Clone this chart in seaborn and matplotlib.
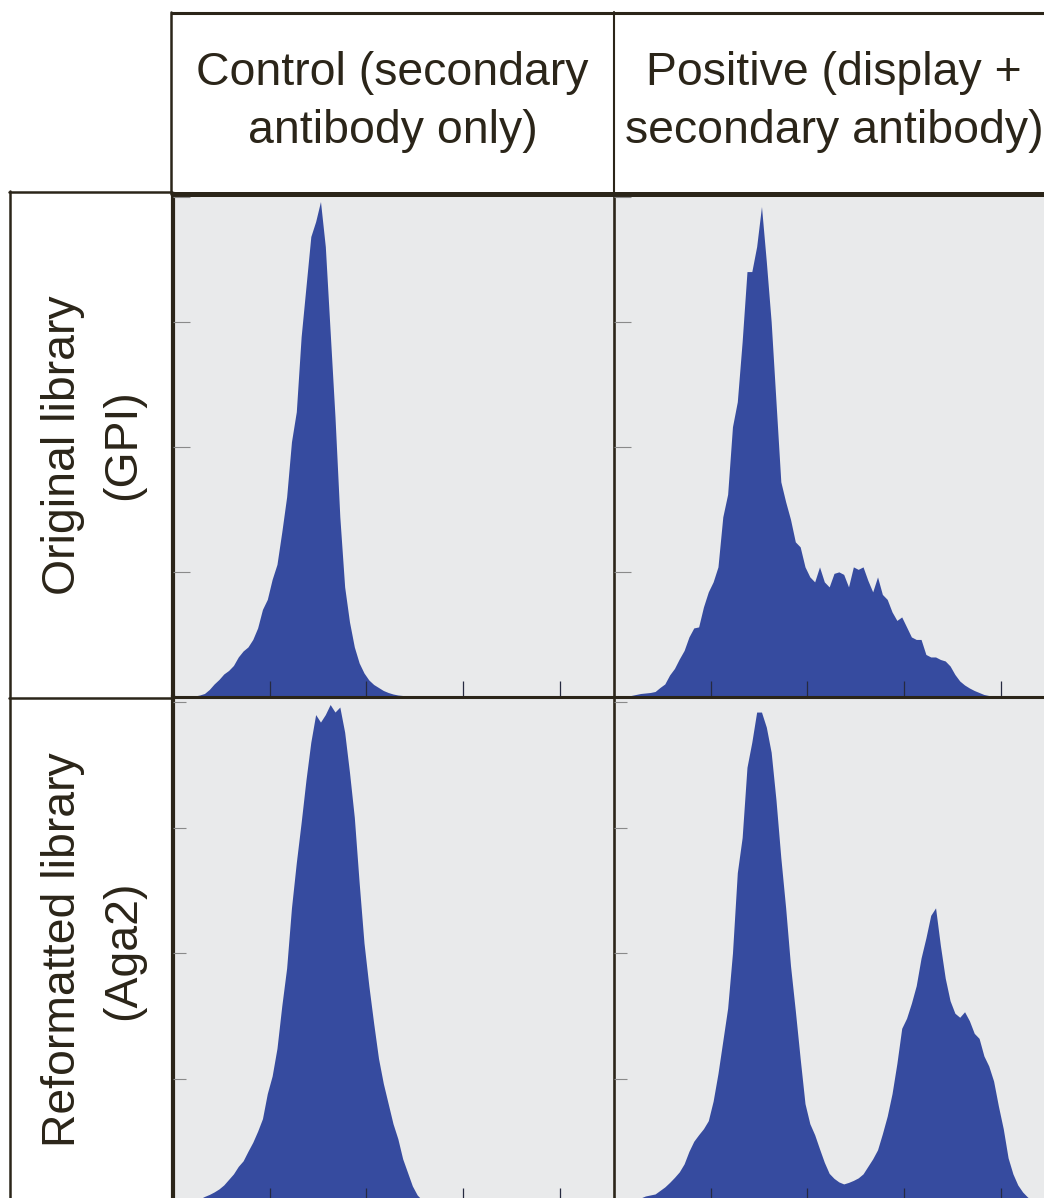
import matplotlib
matplotlib.use('Agg')
import matplotlib.pyplot as plt
import seaborn as sns
import pandas as pd
import numpy as np

# Fluorescence histograms, x in decades (log10 channel), y in % of max
bin_width = 0.05
x_max = 4.6
bin_centers = np.round(np.arange(bin_width / 2, x_max, bin_width), 3)

control_gpi = [
    0, 0, 0, 0.1, 0.2, 0.4, 0.7, 1.5, 2.6, 3.5,
    4.6, 5.3, 6.3, 8.0, 9.2, 10.0, 11.5, 13.8, 17.5, 19.5,
    23.5, 26.5, 33, 40, 51, 57, 72, 82, 92, 95,
    99, 90, 73, 56, 36, 22, 15, 10, 6.8, 4.8,
    3.4, 2.5, 1.9, 1.3, 0.9, 0.6, 0.4, 0.3, 0.2, 0.2,
    0.1, 0.2, 0.1, 0.1, 0.1, 0, 0.1, 0, 0, 0,
    0, 0, 0, 0, 0, 0, 0, 0, 0, 0,
    0, 0, 0, 0, 0, 0, 0, 0, 0, 0,
    0, 0, 0, 0, 0, 0, 0, 0, 0, 0,
    0, 0,
]
positive_gpi = [
    0, 0, 0.1, 0.3, 0.5, 0.7, 0.8, 0.9, 1.1, 1.9,
    2.6, 4.4, 5.7, 7.6, 9.3, 12, 13.8, 14, 18, 21,
    23, 26, 36, 40.5, 54, 59, 71, 85, 85, 90,
    98, 87, 75, 59, 43, 39, 35.5, 31, 30, 26,
    24, 23, 26, 23, 22, 24.7, 25, 24.5, 22, 26,
    25.5, 26, 23.3, 21, 24, 20.5, 19.5, 17, 15.3, 16,
    14, 12, 11.5, 11.5, 8.5, 8, 8, 7.5, 7.2, 6.2,
    4.5, 3.2, 2.4, 1.8, 1.3, 0.9, 0.5, 0.3, 0.1, 0,
    0, 0, 0, 0, 0, 0, 0, 0, 0, 0,
    0, 0,
]
control_aga2 = [
    0, 0, 0.1, 0.3, 0.6, 1.0, 1.5, 1.9, 2.4, 3.0,
    3.8, 4.9, 6.0, 7.5, 8.6, 10.5, 12.3, 14.5, 17, 22,
    25.5, 31, 39.5, 47, 59, 68, 76, 84.5, 92, 97.5,
    96, 97.5, 99.5, 98, 99, 94, 86, 77, 64, 52,
    43.5, 36, 29, 24, 20, 16, 13, 9, 6.3, 3.6,
    1.8, 0.8, 0.4, 0.2, 0, 0, 0, 0, 0, 0,
    0, 0, 0, 0, 0, 0, 0, 0, 0, 0,
    0, 0, 0, 0, 0, 0, 0, 0, 0, 0,
    0, 0, 0, 0, 0, 0, 0, 0, 0, 0,
    0, 0,
]
positive_aga2 = [
    0, 0, 0.1, 0.3, 0.7, 1.2, 1.6, 1.8, 2.0, 2.7,
    3.4, 4.3, 5.3, 6.4, 8, 10.5, 12.5, 13.8, 15, 16.6,
    20.5, 26, 32.5, 39, 50, 66, 73, 87, 92, 98,
    98, 95, 90, 80.5, 69, 59, 47.5, 38.5, 29, 20,
    16, 13.8, 11, 8.3, 6.1, 5.1, 4.4, 4.0, 4.3, 4.7,
    5.2, 6, 7.5, 9, 10.8, 14, 17.5, 22, 28, 35,
    37, 40, 43.5, 49, 53, 57.5, 59, 51.5, 45, 40.5,
    38, 37.2, 38.3, 36.5, 34, 33, 29.5, 27.5, 24.5, 19.5,
    15, 9.2, 6, 3.8, 2.4, 1.4, 0.7, 0.3, 0.1, 0,
    0, 0,
]

col_titles = [['Control (secondary', 'antibody only)'],
              ['Positive (display +', 'secondary antibody)']]
row_titles = [['Original library', '(GPI)'],
              ['Reformatted library', '(Aga2)']]
panels = [[control_gpi, positive_gpi], [control_aga2, positive_aga2]]
x_ticks = [1, 2, 3, 4]
y_ticks = [25, 50, 75, 100]

W, H = 1044, 1198
BLUE = '#364b9f'
GREY_BG = '#e9eaeb'
INK = '#2b2519'

sns.set_theme(style='white')
plt.rcParams['font.family'] = ['Liberation Sans', 'DejaVu Sans']

fig = plt.figure(figsize=(W / 100, H / 100), dpi=100)
fig.patch.set_facecolor('white')


def px_rect(x0, y0, x1, y1):
    """pixel box (top-left origin) -> figure fraction rect"""
    return [x0 / W, 1 - y1 / H, (x1 - x0) / W, (y1 - y0) / H]


col_x = [(173, 614), (614, 1055)]
row_y = [(194, 697), (697, 1204)]

for r in range(2):
    for c in range(2):
        x0, x1 = col_x[c]
        y0, y1 = row_y[r]
        ax = fig.add_axes(px_rect(x0, y0, x1, y1))
        ax.set_facecolor(GREY_BG)
        df = pd.DataFrame({'channel': bin_centers, 'pct': panels[r][c]})
        sns.histplot(data=df, x='channel', weights='pct',
                     binwidth=bin_width, binrange=(0, x_max),
                     element='poly', fill=True, color=BLUE, alpha=1,
                     linewidth=0, legend=False, ax=ax)
        ax.set_axisbelow(False)  # tick marks sit on top of the fill
        ax.set_xlim(0, 4.56)
        ax.set_ylim(0, 100.5 if r == 0 else 101)
        ax.set_xlabel('')
        ax.set_ylabel('')
        ax.set_xticks(x_ticks)
        ax.set_yticks(y_ticks)
        ax.set_xticklabels([])
        ax.set_yticklabels([])
        ax.tick_params(axis='x', direction='in', length=11.5, width=0.9,
                       color='#262a40', bottom=True)
        ax.tick_params(axis='y', direction='in', length=12 if r == 0 else 9,
                       width=0.8, color='#8a8a8a', left=True)
        for s in ax.spines.values():
            s.set_color(INK)
            s.set_visible(False)
        ax.spines['left'].set_visible(True)
        ax.spines['left'].set_linewidth(3.0 if c == 0 else 1.9)
        ax.spines['top'].set_visible(True)
        ax.spines['top'].set_linewidth(3.6 if r == 0 else 2.2)

# header and row label boxes, drawn on top in pixel coordinates
frame = fig.add_axes([0, 0, 1, 1], zorder=10)
frame.set_xlim(0, W)
frame.set_ylim(H, 0)
frame.axis('off')
frame.patch.set_alpha(0)

frame.plot([171, W + 20], [13, 13], color=INK, lw=2.2, solid_capstyle='butt')
frame.plot([171, 171], [12, 194], color=INK, lw=1.8)
frame.plot([614, 614], [12, 194], color=INK, lw=1.5)
frame.plot([9, 172], [192, 192], color=INK, lw=1.8)
frame.plot([10, 10], [191, H + 10], color=INK, lw=1.8)
frame.plot([9, 172], [698, 698], color=INK, lw=1.8)

header_cx = [392.5, 834]
for c in range(2):
    for i, line in enumerate(col_titles[c]):
        frame.text(header_cx[c], 85 + 58 * i, line, ha='center', va='baseline',
                   fontsize=33.4, color=INK)

row_cy = [445, 950]
for r in range(2):
    for i, line in enumerate(row_titles[r]):
        frame.text(75 + 60 * i, row_cy[r], line, ha='center', va='baseline',
                   rotation=90, rotation_mode='anchor', fontsize=33.4, color=INK)

fig.savefig('out.png', dpi=100)
plt.close(fig)
